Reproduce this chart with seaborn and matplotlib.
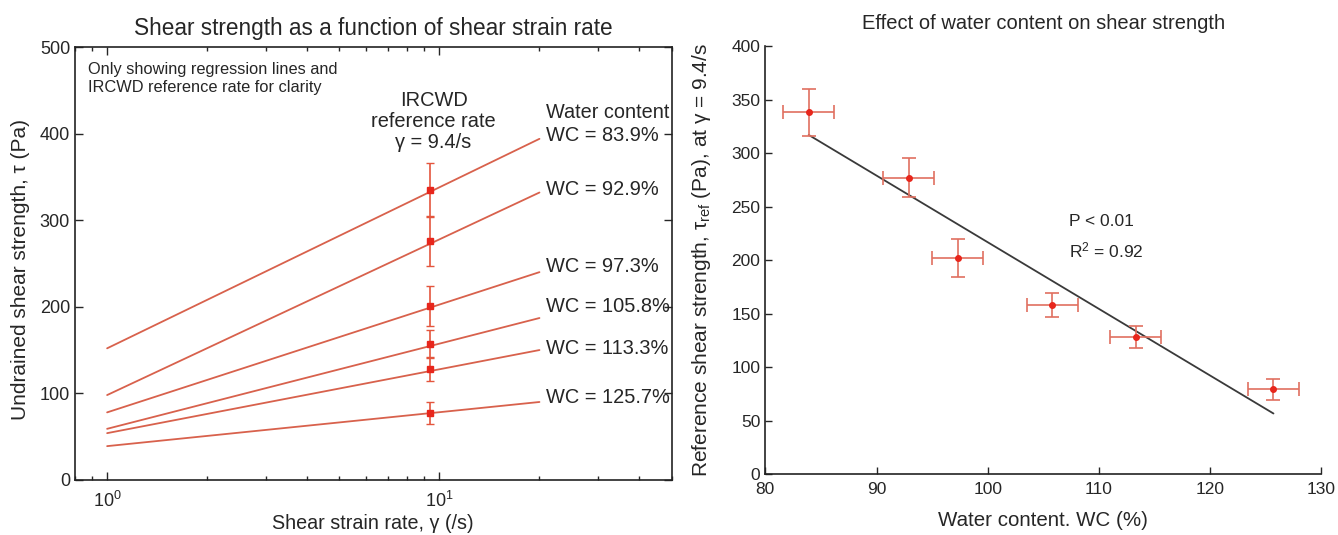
import numpy as np
import pandas as pd
import matplotlib
matplotlib.use("Agg")
import matplotlib.pyplot as plt
import seaborn as sns
from matplotlib.ticker import LogLocator, NullFormatter, MultipleLocator

# ---- data ----
water_content = [83.9, 92.9, 97.3, 105.8, 113.3, 125.7]   # WC (%)
rate_ends = [1.0, 20.0]                                   # span of regression lines (/s)
tau_at_1 = [152, 98, 78, 59, 54, 39]                      # regression line at 1 /s (Pa)
tau_at_20 = [394, 332, 240, 187, 150, 90]                 # regression line at 20 /s (Pa)
ref_rate = 9.4                                            # IRCWD reference rate (/s)
tau_ref_left = [335, 276, 201, 157, 128, 77]              # points on left panel
tau_ref_left_err = [31, 29, 23, 16, 14, 13]
tau_ref = [338, 277, 202, 158, 128, 79]                   # right panel means
tau_ref_err = [22, 18, 18, 11, 10, 10]
wc_err = [2.3, 2.3, 2.3, 2.3, 2.3, 2.3]

sns.set_theme(style="ticks")
plt.rcParams['font.family'] = ['Liberation Sans', 'DejaVu Sans']
plt.rcParams['mathtext.fontset'] = 'custom'
plt.rcParams['mathtext.rm'] = 'Liberation Sans'
plt.rcParams['mathtext.it'] = 'Liberation Sans:italic'
plt.rcParams['mathtext.default'] = 'regular'

line_red = '#d8614c'
bar_red = '#e4553d'
pt_red = '#e8261c'

fig = plt.figure(figsize=(13.38, 5.35), dpi=100)
ax1 = fig.add_axes([0.056, 0.103, 0.446, 0.809])
ax2 = fig.add_axes([0.572, 0.114, 0.4155, 0.80])

# ---- left panel ----
lines = pd.DataFrame({
    'rate': rate_ends * len(water_content),
    'tau': [v for a, b in zip(tau_at_1, tau_at_20) for v in (a, b)],
    'wc': [w for w in water_content for _ in rate_ends],
})
sns.lineplot(data=lines, x='rate', y='tau', units='wc', estimator=None,
             color=line_red, lw=1.3, ax=ax1, legend=False)
ax1.errorbar([ref_rate] * len(tau_ref_left), tau_ref_left, yerr=tau_ref_left_err,
             fmt='s', ms=4, color=bar_red, mfc=pt_red, mec=pt_red,
             elinewidth=1.2, capsize=3, capthick=1.0, zorder=3)

ax1.set_xscale('log')
ax1.set_xlim(0.8, 50)
ax1.set_ylim(0, 500)
ax1.yaxis.set_major_locator(MultipleLocator(100))
ax1.xaxis.set_minor_locator(LogLocator(base=10, subs=np.arange(2, 10)))
ax1.xaxis.set_minor_formatter(NullFormatter())
ax1.tick_params(which='both', direction='in', top=True, right=True,
                labelsize=13, width=1.0)
ax1.tick_params(which='major', length=6)
ax1.tick_params(which='minor', length=3)
ax1.tick_params(axis='x', pad=8)
for s in ax1.spines.values():
    s.set_linewidth(1.2)
    s.set_color('#222222')
ax1.set_title('Shear strength as a function of shear strain rate', fontsize=16.3, pad=9)
ax1.set_xlabel('Shear strain rate, γ (/s)', fontsize=14.2, labelpad=2)
ax1.set_ylabel('Undrained shear strength, τ (Pa)', fontsize=15)
ax1.yaxis.set_label_coords(-0.075, 0.485)

ax1.text(0.022, 0.965, 'Only showing regression lines and\nIRCWD reference rate for clarity',
         transform=ax1.transAxes, fontsize=11.8, va='top', ha='left', linespacing=1.2)
ax1.text(9.6, 414, 'IRCWD\nreference rate\nγ = 9.4/s', fontsize=14.4, ha='center',
         va='center', linespacing=1.15)
ax1.text(21.0, 425, 'Water content', fontsize=14.3, ha='left', va='center')
label_dy = [4, 3, 6, 13, 2, 5]
for wc, t20, dy in zip(water_content, tau_at_20, label_dy):
    ax1.text(21.0, t20 + dy, f'WC = {wc}%', fontsize=14.4, ha='left', va='center')

# ---- right panel ----
sns.regplot(x=water_content, y=tau_ref, scatter=False, ci=None, ax=ax2,
            line_kws={'color': '#3a3a3a', 'lw': 1.3})
ax2.errorbar(water_content, tau_ref, xerr=wc_err, yerr=tau_ref_err, fmt='o', ms=4,
             color='#e07060', mfc=pt_red, mec=pt_red, elinewidth=1.2,
             capsize=5, capthick=1.2, zorder=3)
ax2.set_xlim(80, 130)
ax2.set_ylim(0, 400)
ax2.yaxis.set_major_locator(MultipleLocator(50))
ax2.xaxis.set_major_locator(MultipleLocator(10))
sns.despine(ax=ax2)
ax2.tick_params(direction='in', labelsize=12.5, length=5, width=1.0)
ax2.tick_params(axis='x', pad=6)
for s in ax2.spines.values():
    s.set_linewidth(1.2)
    s.set_color('#222222')
ax2.set_title('Effect of water content on shear strength', fontsize=14.5, pad=12)
ax2.set_xlabel('Water content. WC (%)', fontsize=14.8, labelpad=10)
ax2.set_ylabel('Reference shear strength, τ$_{ref}$ (Pa), at γ = 9.4/s', fontsize=15)
ax2.yaxis.set_label_coords(-0.094, 0.5)
ax2.text(107.3, 236, 'P < 0.01', fontsize=12.5, ha='left', va='center')
ax2.text(107.3, 209, 'R$^2$ = 0.92', fontsize=12.5, ha='left', va='center')

fig.savefig('out.png', dpi=100)
